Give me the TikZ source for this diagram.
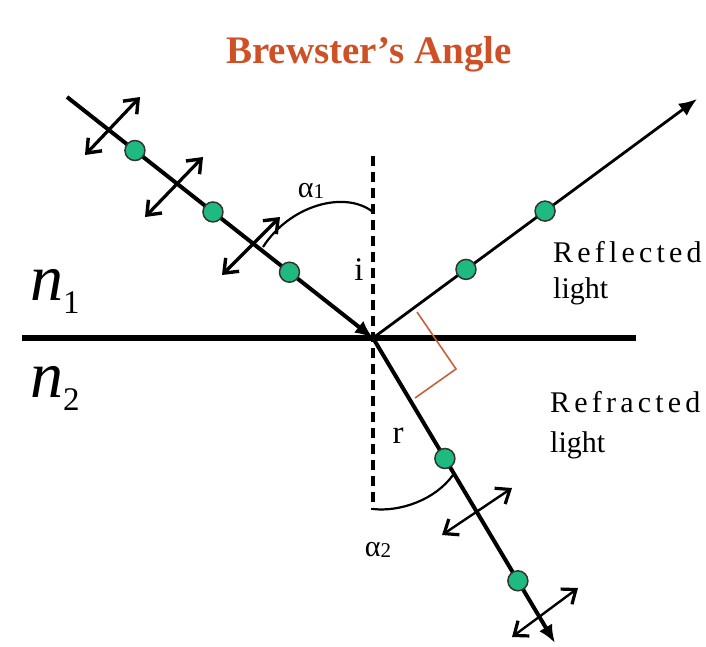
\documentclass[tikz,border=0pt]{standalone}
\usepackage{fontspec}
\setmainfont{Liberation Serif}
\newfontfamily\spacedfont[LetterSpace=14]{Liberation Serif}
\usetikzlibrary{arrows.meta}

\definecolor{dotgreen}{RGB}{30,186,128}
\definecolor{titlered}{RGB}{206,80,38}
\definecolor{markbrown}{RGB}{200,96,56}

\begin{document}
\begin{tikzpicture}[
  x=1pt, y=-1pt,
  surface/.style={line width=6pt},
  ray/.style={line width=4pt, -{Latex[length=18pt, width=15pt]}},
  thinray/.style={line width=2.8pt, -{Latex[length=18pt, width=15pt]}},
  normal/.style={line width=3.4pt, dash pattern=on 10pt off 6pt},
  pol/.style={line width=3.2pt, {Straight Barb[length=12pt, width=19pt, line width=3.4pt]}-{Straight Barb[length=12pt, width=19pt, line width=3.4pt]}},
  thinpol/.style={line width=2.4pt, {Straight Barb[length=12pt, width=19pt, line width=3.2pt]}-{Straight Barb[length=12pt, width=19pt, line width=3.2pt]}},
  dot/.style={circle, fill=dotgreen, draw=black!80, line width=1.5pt, minimum size=20pt, inner sep=0pt},
  lbl/.style={font=\fontsize{30}{36}\selectfont, inner sep=0pt},
  angarc/.style={line width=2.2pt}
]
\useasboundingbox (0,0) rectangle (706,646);

\coordinate (O) at (373,338);
\coordinate (src) at (67,97);
\coordinate (reflEnd) at (697,99);
\coordinate (refrEnd) at (555,643);
\coordinate (surfL) at (22,338);
\coordinate (surfR) at (636,338);
\coordinate (normTop) at (373,156);
\coordinate (normBot) at (373,510);

\node[font=\fontsize{39}{40}\selectfont\bfseries, text=titlered, anchor=base] (title) at (369,63) {Brewster’s Angle};

\draw[normal] (normTop) -- (normBot);
\draw[surface] (surfL) -- (surfR);

\draw[ray] (src) -- node[dot, pos=.222] (inc1) {} node[dot, pos=.477] (inc2) {} node[dot, pos=.727] (inc3) {} (O);
\draw[thinray] (O) -- node[dot, pos=.287] (refl1) {} node[dot, pos=.531] (refl2) {} (reflEnd);
\draw[ray] (O) -- node[dot, pos=.395] (refr1) {} node[dot, pos=.796] (refr2) {} (refrEnd);

\coordinate (pa1) at (85,155);  \coordinate (pb1) at (140,97);
\coordinate (pa2) at (145,217); \coordinate (pb2) at (203,157);
\coordinate (pa3) at (222,275); \coordinate (pb3) at (280,217);
\coordinate (qa1) at (442,535); \coordinate (qb1) at (512,488);
\coordinate (qa2) at (512,637); \coordinate (qb2) at (578,588);
\foreach \i in {1,2,3}
  \draw[pol] (pa\i) -- (pb\i);
\foreach \i in {1,2}
  \draw[thinpol] (qa\i) -- (qb\i);

\coordinate (mkA) at (417,312);
\coordinate (mkB) at (456,369);
\coordinate (mkC) at (415,398);
\draw[markbrown, line width=1.6pt] (mkA) -- (mkB) -- (mkC);

\coordinate (arc1a) at (263,247);
\coordinate (arc1b) at (373,212);
\draw[angarc] (arc1a) .. controls (290,205) and (345,190) .. (arc1b);
\coordinate (arc2a) at (373,509);
\coordinate (arc2b) at (453,475);
\draw[angarc] (arc2a) .. controls (400,512) and (435,500) .. (arc2b);

\node[lbl, anchor=base] (alphaOne) at (311,197) {α\raisebox{-1pt}{\fontsize{21}{21}\selectfont 1}};
\node[lbl, anchor=base] (alphaTwo) at (378,556) {α\raisebox{-1pt}{\fontsize{21}{21}\selectfont 2}};
\node[lbl, font=\fontsize{33}{36}\selectfont, anchor=base] (angI) at (359,280) {i};
\node[lbl, font=\fontsize{33}{36}\selectfont, anchor=base] (angR) at (398,443) {r};

\node[lbl, anchor=base west] (reflTxt) at (553,262) {\spacedfont Reflected};
\node[lbl, anchor=base west] (reflTxt2) at (553,298) {light};
\node[lbl, anchor=base west] (refrTxt) at (550,412) {\spacedfont Refracted};
\node[lbl, anchor=base west] (refrTxt2) at (550,452) {light};

\node[inner sep=0pt, anchor=base west, font=\fontsize{66}{66}\selectfont\itshape] (nOne) at (30,300) {n\raisebox{-13pt}{\upshape\fontsize{33}{33}\selectfont 1}};
\node[inner sep=0pt, anchor=base west, font=\fontsize{66}{66}\selectfont\itshape] (nTwo) at (30,397) {n\raisebox{-13pt}{\upshape\fontsize{33}{33}\selectfont 2}};
\end{tikzpicture}
\end{document}
